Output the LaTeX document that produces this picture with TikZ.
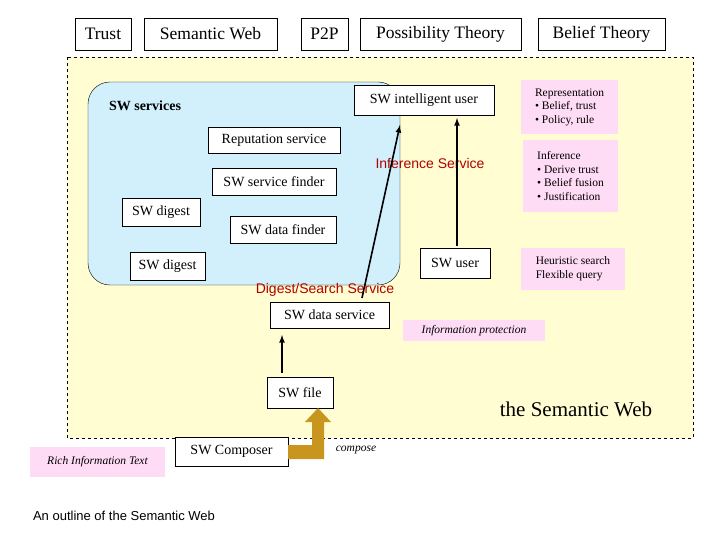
\documentclass[tikz,border=0pt]{standalone}
\usepackage{fontspec}
\setmainfont{Liberation Serif}
\newfontfamily\sans{Liberation Sans}
\definecolor{gold}{RGB}{200,150,30}
\begin{document}
\begin{tikzpicture}[x=1pt,y=-1pt,
 bx/.style={draw,fill=white,inner sep=0pt,font=\fontsize{14}{16}\selectfont},
 top/.style={bx,font=\fontsize{17.5}{19}\selectfont},
 pk/.style={fill=pink!60!magenta!25,inner sep=3pt,align=left,font=\fontsize{11.5}{13.5}\selectfont},
 red/.style={text=red!70!black,font=\sans\fontsize{14}{16}\selectfont},
 ar/.style={-latex,line width=1.6pt}]
\useasboundingbox (0,0) rectangle (720,540);
\fill[white] (0,0) rectangle (720,540);
\draw[dashed,fill=yellow!18] (67,57) rectangle (693,438);
\draw[fill=cyan!18,rounded corners=22pt] (88,82) rectangle (400,285);
\node[top,minimum width=56,minimum height=32] (t1) at (103,34) {Trust};
\node[top,minimum width=133,minimum height=32] (t2) at (210.5,34) {Semantic Web};
\node[top,minimum width=47,minimum height=32] (t3) at (324.5,34) {P2P};
\node[top,minimum width=161,minimum height=32] (t4) at (440.5,34) {Possibility Theory};
\node[top,minimum width=127,minimum height=32] (t5) at (601.5,34) {Belief Theory};
\node[bx,minimum width=140,minimum height=30] (iu) at (424,100) {SW intelligent user};
\node[font=\bfseries\fontsize{14}{16}\selectfont] (ss) at (145,106) {SW services};
\node[bx,minimum width=132,minimum height=26] (rep) at (274,140) {Reputation service};
\node[red] (inf) at (430,163) {Inference Service};
\node[bx,minimum width=124,minimum height=27] (sf) at (274,181.5) {SW service finder};
\node[bx,minimum width=78,minimum height=28] (d1) at (161,212) {SW digest};
\node[bx,minimum width=106,minimum height=27] (df) at (283,229.5) {SW data finder};
\node[bx,minimum width=75,minimum height=28] (d2) at (167.5,266) {SW digest};
\node[bx,minimum width=70,minimum height=30] (su) at (455,263) {SW user};
\node[red] (dss) at (325,290) {Digest/Search Service};
\node[bx,minimum width=119,minimum height=26] (ds) at (329.5,315) {SW data service};
\node[bx,minimum width=66,minimum height=31] (sfile) at (300,392.5) {SW file};
\node[pk,minimum width=142,minimum height=21,font=\itshape\fontsize{11.5}{13}\selectfont] (ip) at (474,330.5) {Information protection};
\node[font=\fontsize{21}{24}\selectfont] (sw) at (576,409) {the Semantic Web};
\node[pk,minimum width=135,minimum height=30,font=\itshape\fontsize{11.5}{13}\selectfont] (rit) at (97.5,462) {Rich Information Text};
\node[bx,minimum width=113,minimum height=29] (sc) at (231.5,451.5) {SW Composer};
\node[font=\itshape\fontsize{11.5}{13}\selectfont] (cp) at (356,450) {compose};
\node[font=\sans\fontsize{13}{15}\selectfont] (cap) at (124,516) {An outline of the Semantic Web};
\node[pk,minimum width=97,minimum height=54] (p1) at (569.5,107) {Representation\\ \textbullet\ Belief, trust\\ \textbullet\ Policy, rule};
\node[pk,minimum width=95,minimum height=72] (p2) at (570.5,176) {Inference\\ \textbullet\ Derive trust\\ \textbullet\ Belief fusion\\ \textbullet\ Justification};
\node[pk,minimum width=104,minimum height=42] (p3) at (573,269) {Heuristic search\\ Flexible query};
\coordinate (a1) at (362,298); \coordinate (a1e) at (400,125);
\draw[ar] (a1) -- (a1e);
\coordinate (b1) at (457,246); \coordinate (b2) at (457,118);
\draw[ar] (b1) -- (b2);
\coordinate (c1) at (282,373); \coordinate (c2) at (282,335);
\draw[ar] (c1) -- (c2);
\fill[gold] (288,445) -- (312,445) -- (312,422) -- (305,422) -- (318,408) -- (331,422) -- (324,422) -- (324,459) -- (288,459) -- cycle;
\end{tikzpicture}
\end{document}
